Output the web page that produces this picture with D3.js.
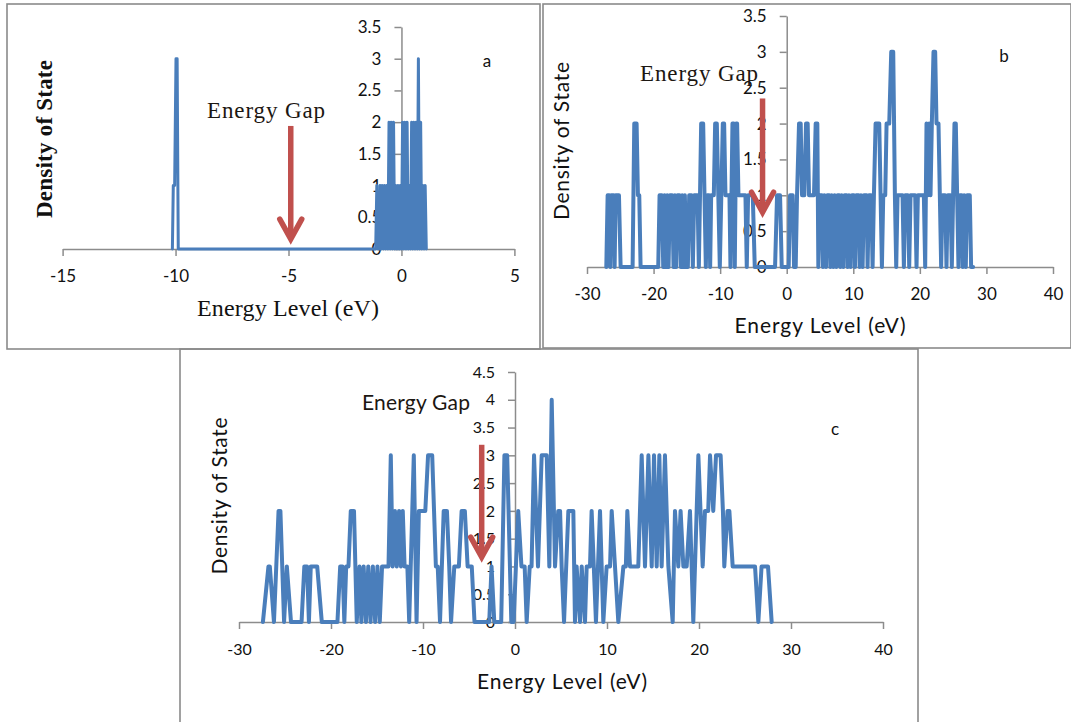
<!DOCTYPE html>
<html><head><meta charset="utf-8">
<script src="https://cdn.jsdelivr.net/npm/d3@7"></script>
<style>body{margin:0;background:#fff} svg{display:block}</style>
</head><body>
<svg id="chart" width="1071" height="722"></svg>
<script>
// ---------------- data ----------------
const aTicksX = [-15, -10, -5, 0, 5];
const aTicksY = [0, 0.5, 1, 1.5, 2, 2.5, 3, 3.5];
const bTicksX = [-30, -20, -10, 0, 10, 20, 30, 40];
const bTicksY = [0, 0.5, 1, 1.5, 2, 2.5, 3, 3.5];
const cTicksX = [-30, -20, -10, 0, 10, 20, 30, 40];
const cTicksY = [0, 0.5, 1, 1.5, 2, 2.5, 3, 3.5, 4, 4.5];

// panel a : [energy (eV), density of state]
const aPoints = [
  [-10.14,0],[-10.1,1],[-10.04,1],[-9.98,3],[-9.93,3],[-9.88,0],
  [-1.14,0],[-1.09,1],[-1.04,0],[-0.97,0],
  [-0.95,1],[-0.90,0],[-0.85,1],[-0.80,0],[-0.75,1],[-0.70,0],[-0.65,1],[-0.60,0],
  [-0.55,2],[-0.50,0],[-0.45,2],[-0.40,0],[-0.35,2],[-0.30,0],[-0.25,1],[-0.20,0],
  [-0.15,1],[-0.10,0],[-0.05,1],[0.00,0],[0.05,2],[0.10,0],[0.15,2],[0.20,0],
  [0.25,2],[0.30,0],[0.35,1],[0.40,0],[0.45,2],[0.50,0],[0.55,2],[0.60,0],
  [0.65,2],[0.70,0],[0.75,3],[0.80,0],[0.85,2],[0.90,0],[0.95,1],[1.00,0],
  [1.05,1],[1.10,0]
];

// panel b
const bPoints = [
  [-27.1,0],[-26.9,1],[-26.65,1],[-26.5,0],[-26.35,1],[-26.0,1],[-25.85,0],[-25.7,1],[-25.2,1],[-24.95,0],
  [-23.15,0],[-22.9,2],[-22.55,2],[-22.35,1],[-22.15,1],[-21.95,0],
  [-19.3,0],[-19.1,1],[-18.75,1],[-18.55,0],[-18.35,1],[-18.15,0],[-17.95,1],[-17.75,0],[-17.55,1],[-17.2,1],
  [-17.0,0],[-16.8,1],[-16.6,0],[-16.4,1],[-16.1,1],[-15.9,0],[-15.7,1],[-15.5,0],[-15.3,1],[-15.1,0],
  [-14.85,0],[-14.65,1],[-14.3,1],[-14.1,0],[-13.9,1],[-13.4,1],[-13.2,0],[-12.85,2],[-12.55,2],[-12.35,1],
  [-12.15,0],[-11.95,1],[-11.65,1],[-11.5,0],[-11.35,1],[-10.95,1],[-10.75,2],[-10.5,2],[-10.05,0],
  [-9.6,2],[-9.4,2],[-9.2,1],[-8.6,1],[-8.45,0],[-8.15,2],[-7.95,2],[-7.8,0],[-7.6,2],[-7.45,2],[-7.25,1],
  [-6.2,1],[-6.0,0],[-5.8,1],[-5.1,1],[-4.8,0],[-1.75,0],[-1.45,1],[-1.0,1],[-0.75,0],
  [0.3,0],[0.5,1],[0.9,1],[1.1,0],[1.35,0],[1.55,1],[1.85,2],[2.1,2],[2.3,1],[2.65,1],[2.9,2],[3.15,2],
  [3.35,1],[4.1,1],[4.35,2],[4.6,2],[4.75,0],[5.0,1],[5.3,1],[5.45,0],[5.65,1],[5.9,0],[6.1,1],[6.4,1],
  [6.55,0],[6.75,1],[7.0,0],[7.2,1],[7.45,0],[7.65,1],[7.9,1],[8.05,0],[8.25,1],[8.5,0],[8.7,1],[9.0,1],
  [9.15,0],[9.35,1],[9.6,0],[9.8,1],[10.1,1],[10.25,0],[10.45,1],[10.8,1],[10.95,0],[11.15,1],[11.4,0],
  [11.6,1],[12.0,1],[12.15,0],[12.35,1],[12.7,1],[12.9,0],[13.1,1],[13.35,2],[13.9,2],[14.1,1],[14.3,0],
  [14.5,1],[14.8,1],[15.0,2],[15.4,2],[15.7,3],[16.0,3],[16.25,1],[16.45,0],[16.65,1],[17.4,1],[17.6,0],
  [17.8,1],[18.2,1],[18.4,0],[18.6,1],[19.3,1],[19.5,0],[19.7,1],[20.6,1],[20.8,0],[21.0,2],[21.2,1],
  [21.4,2],[21.6,1],[21.8,2],[22.05,3],[22.3,3],[22.5,2],[22.8,2],[23.0,1],[23.2,0],[23.4,1],[23.8,1],
  [24.0,0],[24.2,1],[24.6,1],[24.8,0],[25.0,1],[25.2,2],[25.4,2],[25.6,1],[25.8,0],[26.0,1],[26.3,1],
  [26.45,0],[26.65,1],[26.9,0],[27.1,1],[27.5,1],[27.7,0],[28.0,0]
];

// panel c
const cPoints = [
  [-27.4,0],[-26.8,1],[-26.65,1],[-26.2,0],[-25.7,2],[-25.5,2],[-25.1,0],[-24.8,1],[-24.35,0],
  [-23.2,0],[-22.9,1],[-22.6,1],[-22.4,0],[-22.2,1],[-21.5,1],[-21.0,0],
  [-19.3,0],[-19.0,1],[-18.75,1],[-18.55,0],[-18.35,1],[-18.1,1],[-17.85,2],[-17.5,2],[-17.2,0],
  [-16.9,1],[-16.7,0],[-16.45,1],[-16.2,0],[-15.95,1],[-15.7,0],[-15.45,1],[-15.2,0],[-14.95,1],
  [-14.7,0],[-14.45,1],[-13.75,1],[-13.5,3],[-13.3,1],[-13.05,2],[-12.85,1],[-12.6,2],[-12.4,1],
  [-12.2,2],[-12.0,1],[-11.7,1],[-11.5,0],[-11.0,3],[-10.7,0],[-10.45,2],[-9.75,2],[-9.45,3],[-9.0,3],
  [-8.6,1],[-8.4,1],[-8.15,0],[-7.75,2],[-7.4,2],[-7.15,1],[-6.95,0],[-6.6,1],[-6.1,1],[-5.8,2],
  [-5.45,2],[-5.15,1],[-4.7,1],[-4.4,0],[-2.8,0],[-2.55,1],[-2.25,0],[-1.5,0],[-1.15,3],[-0.85,3],
  [-0.4,0],[-0.15,0],[0.35,2],[0.7,1],[1.05,1],[1.27,0],[1.6,1],[1.8,1],[2.07,3],[2.5,1],[2.9,3],
  [3.45,3],[3.73,1],[3.99,4],[4.35,1],[4.7,2],[4.9,2],[5.07,1],[5.33,0],[5.8,2],[6.34,2],[6.52,0],
  [6.7,1],[7.07,0],[7.25,1],[7.61,0],[7.79,1],[8.15,1],[8.33,2],[8.8,0],[9.24,2],[9.6,0],[9.96,1],
  [10.33,1],[10.51,2],[11.23,0],[11.78,1],[12.05,1],[12.21,2],[12.5,1],[13.4,1],[13.77,3],[14.13,1],
  [14.5,3],[14.86,1],[15.11,3],[15.4,1],[15.69,3],[15.94,1],[16.3,3],[16.67,1],[17.14,0],[17.39,2],
  [17.75,1],[18.0,2],[18.3,1],[18.66,1],[19.02,2],[19.38,0],[19.93,3],[20.4,1],[20.65,2],[21.0,2],
  [21.2,3],[21.55,2],[21.85,3],[22.35,3],[22.6,2],[22.75,1],[23.1,2],[23.3,2],[23.66,1],[26.09,1],
  [26.45,0],[26.8,1],[27.5,1],[27.9,0]
];

const axisTitleX = "Energy Level (eV)";
const axisTitleY = "Density of State";
const gapLabel = "Energy Gap";

// ---------------- drawing ----------------
const svg = d3.select('#chart');
const BLUE = '#4a7ebb', RED = '#c0504d', AXIS = '#8c8c8c', FRAME = '#8a8a8a';
const SERIF = '"Liberation Serif","Times New Roman",serif';
const SANS = 'Lato,"Open Sans",sans-serif';

// panel frames
[[7,4,533,345],[543,4,528,344],[180,349,738,380]].forEach(r => {
  svg.append('rect').attr('x', r[0]).attr('y', r[1]).attr('width', r[2]).attr('height', r[3])
    .attr('fill', 'none').attr('stroke', FRAME).attr('stroke-width', 1.6);
});

function panel(o) {
  const g = svg.append('g');
  const x = d3.scaleLinear().domain(o.xDom).range(o.xRange);
  const y = d3.scaleLinear().domain(o.yDom).range(o.yRange);

  const xAxis = g.append('g').attr('transform', `translate(0,${y(0)})`)
    .call(d3.axisBottom(x).tickValues(o.xTicks).tickSize(7).tickSizeOuter(0)
      .tickPadding(o.xPad).tickFormat(d => String(d)));
  const yAxis = g.append('g').attr('transform', `translate(${x(0)},0)`)
    .call(d3.axisLeft(y).tickValues(o.yTicks).tickSize(7).tickSizeOuter(0)
      .tickPadding(13).tickFormat(d => String(d)));
  [xAxis, yAxis].forEach(ax => {
    ax.selectAll('path,line').attr('stroke', AXIS).attr('stroke-width', 1.5);
    ax.selectAll('text').attr('fill', '#111').style('font-family', o.tickFont)
      .style('font-size', o.tickSize + 'px');
  });

  const line = d3.line().x(d => x(d[0])).y(d => y(d[1]));
  g.append('path').datum(o.pts).attr('d', line).attr('fill', 'none')
    .attr('stroke', BLUE).attr('stroke-width', o.lw)
    .attr('stroke-linejoin', 'round').attr('stroke-linecap', 'round');

  // axis titles
  g.append('text').attr('x', o.xt[0]).attr('y', o.xt[1]).attr('text-anchor', 'middle')
    .attr('textLength', o.xt[2]).style('font-family', o.titleFont).style('font-size', o.titleSize + 'px')
    .attr('fill', '#111').text(axisTitleX);
  g.append('text').attr('transform', `translate(${o.yt[0]},${o.yt[1]}) rotate(-90)`)
    .attr('text-anchor', 'middle').attr('textLength', o.yt[2])
    .style('font-family', o.titleFont).style('font-size', (o.yTitleSize || o.titleSize) + 'px')
    .style('font-weight', o.yBold ? 'bold' : 'normal').attr('fill', '#111').text(axisTitleY);

  // panel letter
  g.append('text').attr('x', o.letter[1]).attr('y', o.letter[2]).attr('text-anchor', 'middle')
    .style('font-family', SANS).style('font-size', '17px').attr('fill', '#111').text(o.letter[0]);

  // energy gap label
  g.append('text').attr('x', o.gap[0]).attr('y', o.gap[1]).attr('textLength', o.gap[2])
    .style('font-family', o.gapFont).style('font-size', o.gapSize + 'px').attr('fill', '#1c1712')
    .text(gapLabel);

  // arrow (in data units)
  const ax = x(o.arrow[0]), y1 = y(o.arrow[1]), y2 = y(o.arrow[2]);
  g.append('line').attr('x1', ax).attr('x2', ax).attr('y1', y1).attr('y2', y2 - 4)
    .attr('stroke', RED).attr('stroke-width', 5.5);
  g.append('polyline')
    .attr('points', `${ax - 11},${y2 - 21} ${ax},${y2 - 1} ${ax + 11},${y2 - 21}`)
    .attr('fill', 'none').attr('stroke', RED).attr('stroke-width', 5.5)
    .attr('stroke-linejoin', 'miter').attr('stroke-linecap', 'round');
}

panel({
  pts: aPoints, xDom: [-15, 5], xRange: [62.6, 514.4], yDom: [0, 3.5], yRange: [249, 27],
  xTicks: aTicksX, yTicks: aTicksY, xPad: 14, tickFont: SANS, tickSize: 17, lw: 3,
  titleFont: SERIF, titleSize: 24, yTitleSize: 23, xt: [288, 316, 182], yt: [52, 139, 158], yBold: true,
  letter: ['a', 487, 67], gap: [207, 118, 118], gapFont: SERIF, gapSize: 23,
  arrow: [-4.9, 1.94, 0.14]
});
panel({
  pts: bPoints, xDom: [-30, 40], xRange: [587, 1053], yDom: [0, 3.5], yRange: [267, 16],
  xTicks: bTicksX, yTicks: bTicksY, xPad: 14, tickFont: SANS, tickSize: 17, lw: 4,
  titleFont: SANS, titleSize: 21, xt: [820, 333, 171], yt: [569, 141, 158], yBold: false,
  letter: ['b', 1004, 62], gap: [640, 81, 118], gapFont: SERIF, gapSize: 23,
  arrow: [-3.63, 2.35, 0.75]
});
panel({
  pts: cPoints, xDom: [-30, 40], xRange: [239, 883], yDom: [0, 4.5], yRange: [622, 372],
  xTicks: cTicksX, yTicks: cTicksY, xPad: 15, tickFont: SANS, tickSize: 16, lw: 4,
  titleFont: SANS, titleSize: 21, xt: [562, 689, 170], yt: [227, 496, 157], yBold: false,
  letter: ['c', 835, 435], gap: [362, 410, 108], gapFont: SANS, gapSize: 21,
  arrow: [-3.62, 3.19, 1.15]
});
</script>
</body></html>
